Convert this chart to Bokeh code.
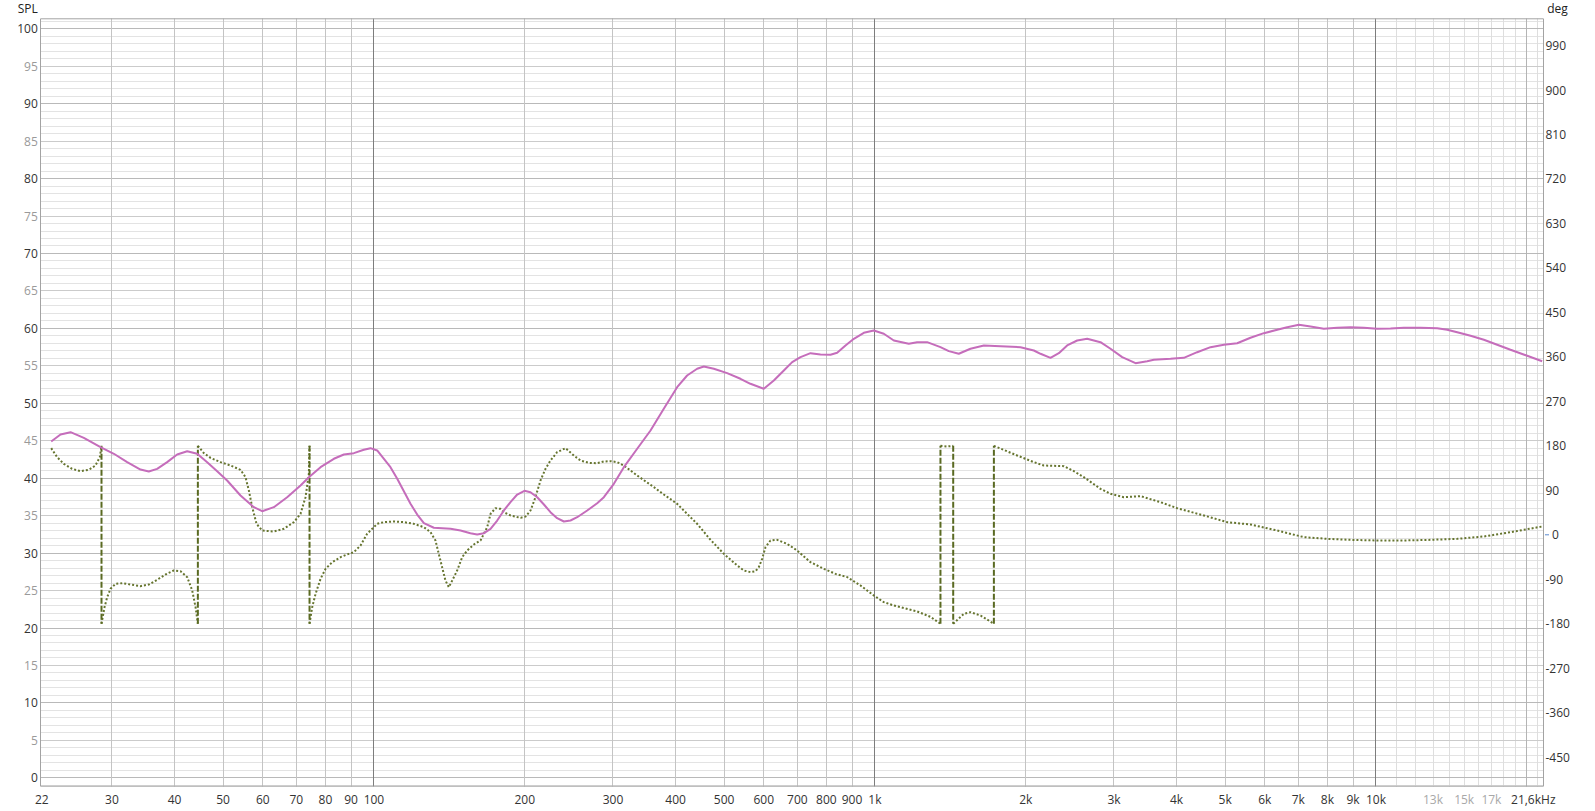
from bokeh.plotting import figure
from bokeh.models import ColumnDataSource, Range1d, FixedTicker, Grid
from bokeh.core.properties import value
from bokeh.embed import file_html
from bokeh.resources import INLINE
import math

# ---------------- data ----------------
spl_freq = [22.69, 23.68, 24.80, 26.36, 28.46, 30.26, 32.17, 34.20, 35.53, 36.92, 38.66,
            40.48, 42.39, 44.38, 46.47, 48.65, 50.93, 54.16, 57.59, 59.83, 63.12, 67.11,
            71.36, 74.15, 78.24, 83.18, 87.09, 91.19, 95.46, 98.43,
            101.5, 107.9, 111.3, 118.3, 122.0, 125.8, 131.7, 142.2, 148.9, 155.8, 160.7,
            165.8, 170.9, 176.2, 181.7, 187.3, 193.2, 199.7, 205.3, 211.8, 218.4, 225.1,
            232.1, 239.4, 246.8, 254.5, 266.5, 279.0, 287.7, 301.2, 315.4, 335.3, 356.5,
            378.9, 402.9, 421.8, 441.7, 455.5,
            476.9, 507.0, 539.0, 564.3, 600.1, 628.3, 657.9, 683.6, 710.3, 743.7, 778.6,
            815.2, 840.6, 873.5, 907.6, 950.2, 994.9, 1041.6, 1090.6, 1168.4, 1214.1,
            1271.1, 1351.4, 1404.2, 1470.2, 1551.1, 1649.9, 1780.6, 1952.3, 2075.9,
            2140.5, 2240.7, 2328.3, 2419.2, 2533.2, 2652.6, 2819.5,
            2952.4, 3115.5, 3312.4, 3494.6, 3603.4, 3890.5, 4136.0, 4397.7, 4675.7,
            4971.9, 5284.6, 5617.9, 5974.5, 6352.3, 6650.9, 7018.0, 7403.5, 7870.1,
            8367.8, 8897.9, 9460.5, 10057, 10693, 11369, 12274, 13254, 13875, 14529,
            15447, 16423, 17459, 18561, 20043, 21470]
spl_db = [44.90, 45.83, 46.14, 45.39, 44.14, 43.26, 42.14, 41.16, 40.89, 41.25, 42.14,
          43.16, 43.60, 43.26, 42.14, 40.93, 39.69, 37.69, 36.13, 35.59, 36.13, 37.46,
          39.03, 40.13, 41.47, 42.59, 43.16, 43.34, 43.79, 44.01,
          43.70, 41.47, 39.92, 36.58, 35.15, 33.99, 33.38, 33.24, 33.02, 32.66, 32.48,
          32.66, 33.24, 34.35, 35.69, 36.80, 37.82, 38.32, 38.13, 37.46, 36.49, 35.46,
          34.66, 34.22, 34.35, 34.79, 35.69, 36.66, 37.46, 39.25, 41.47, 43.93, 46.37,
          49.27, 52.15, 53.71, 54.61, 54.91,
          54.61, 54.02, 53.27, 52.60, 51.94, 53.04, 54.38, 55.49, 56.16, 56.69, 56.52,
          56.48, 56.74, 57.72, 58.61, 59.41, 59.72, 59.28, 58.38, 57.94, 58.16,
          58.16, 57.49, 56.96, 56.61, 57.28, 57.72, 57.62, 57.49, 57.05,
          56.61, 56.07, 56.69, 57.72, 58.38, 58.61, 58.16,
          57.28, 56.16, 55.35, 55.62, 55.81, 55.94, 56.07, 56.82, 57.49,
          57.81, 58.02, 58.75, 59.36, 59.81, 60.16, 60.48, 60.25, 59.95,
          60.08, 60.16, 60.08, 59.95, 59.99, 60.08, 60.08, 60.03, 59.81, 59.49,
          59.01, 58.48, 57.81, 57.14, 56.34, 55.62]

phase_freq = [22.69, 23.32, 24.04, 24.98, 25.96, 26.97, 27.81, 28.37, 28.59, 28.59,
              28.99, 29.35, 29.80, 30.50, 31.45, 32.68, 34.20, 35.53, 36.92, 38.37,
              39.86, 41.11, 42.39, 43.38, 44.05, 44.52, 44.52, 45.77, 47.19, 49.40,
              51.73, 54.16, 55.42, 56.28, 57.15, 58.30, 59.83, 63.12, 66.08, 69.21,
              71.36, 73.02, 74.15, 74.38, 74.38, 75.30, 76.47, 78.24, 80.06, 82.55,
              85.78, 89.12, 91.19, 94.03, 96.93, 99.94,
              101.5, 104.7, 109.6, 114.7, 120.1, 125.8, 129.7, 132.7, 134.7, 136.8,
              138.9, 141.1, 143.3, 146.6, 150.0, 153.5, 158.3, 163.2, 168.3, 170.9,
              174.8, 178.9, 181.6, 187.3, 196.2, 200.7, 205.4, 210.1, 215.0, 220.0,
              225.1, 232.1, 241.2, 250.6, 258.4, 268.5, 279.0, 287.7, 296.7, 305.9,
              315.3, 335.3, 362.0, 379.0, 402.9, 421.8, 441.7, 469.7,
              499.4, 530.9, 547.4, 564.4, 577.5, 586.4, 595.5, 604.7, 618.7, 637.9,
              667.9, 699.3, 743.6, 790.7, 834.3, 880.4, 935.9, 994.9, 1041.6, 1090.6,
              1214.1, 1291.0, 1351.4, 1351.4, 1394.0, 1432.9, 1432.9, 1505.0, 1551.9,
              1624.9, 1727.5, 1727.5, 1922.5, 2075.9, 2173.6, 2382.9, 2494.6, 2611.9,
              2819.5, 2952.4, 3139.0, 3388.9, 3715.4, 4011.2, 4534.3, 5047.3, 5617.9,
              6352.3, 7180.7, 7992.6, 8896.3, 10057, 11369, 12852, 14529, 16423,
              18565, 21470]
phase_deg = [175.3, 157.1, 143.6, 133.5, 128.8, 131.5, 140.2, 157.1, 180, -180,
             -146.4, -126.2, -109.3, -99.2, -97.9, -100.6, -103.9, -100.6, -91.1, -80.3,
             -72.2, -73.6, -85.7, -112.7, -146.4, -180, 180, 165.2, 155.7, 147.0,
             140.2, 131.5, 116.6, 89.6, 55.9, 22.2, 8.7, 6.7, 12.1, 25.6,
             42.4, 76.1, 123.4, 180, -180, -146.4, -119.5, -89.1, -68.9, -55.4,
             -45.3, -38.5, -35.1, -21.7, 2.0, 15.4,
             22.2, 25.6, 26.9, 25.6, 22.2, 15.4, 5.3, -11.5, -38.5, -65.5,
             -92.5, -106.0, -92.5, -72.2, -45.3, -31.8, -19.6, -11.5, 15.4, 42.4,
             53.9, 52.5, 45.8, 39.1, 34.3, 37.0, 49.2, 76.1, 109.9, 133.5,
             150.3, 167.2, 175.3, 160.5, 150.3, 145.6, 144.9, 148.3, 149.0, 147.0,
             140.2, 120.0, 96.4, 81.5, 62.7, 42.4, 22.2, -10.2,
             -38.5, -62.1, -72.2, -75.6, -73.6, -65.5, -48.6, -25.0, -11.5, -10.2,
             -18.3, -31.8, -55.4, -68.9, -79.0, -85.7, -102.6, -122.8, -136.3, -143.1,
             -155.0, -166.0, -180, 180, 178.7, 180, -180, -159.9, -156.5,
             -163.3, -180, 180, 160.5, 147.0, 140.2, 138.9, 128.8, 116.6,
             93.0, 82.9, 76.1, 78.2, 66.0, 53.9, 39.1, 25.6, 20.8,
             8.7, -4.8, -8.2, -10.2, -11.5, -11.5, -10.2, -8.2, -3.4,
             5.3, 16.8]

db_major_ticks = list(range(0, 101, 10))
db_half_ticks = list(range(5, 100, 10))
db_minor_ticks = [v for v in range(-1, 102) if v % 5 != 0]
deg_ticks = list(range(-450, 991, 90))

freq_grid = [30, 40, 50, 60, 70, 80, 90, 200, 300, 400, 500, 600, 700, 800, 900,
             2000, 3000, 4000, 5000, 6000, 7000, 8000, 9000]
freq_decades = [100, 1000, 10000]
freq_fine = [11000, 12000, 13000, 14000, 15000, 16000, 17000, 18000, 19000, 21000]
freq_20k = [20000]

x_tick_values = [21.73, 30, 40, 50, 60, 70, 80, 90, 100, 200, 300, 400, 500, 600, 700,
                 800, 900, 1000, 2000, 3000, 4000, 5000, 6000, 7000, 8000, 9000, 10000]
x_tick_labels = ["22", "30", "40", "50", "60", "70", "80", "90", "100", "200", "300",
                 "400", "500", "600", "700", "800", "900", "1k", "2k", "3k", "4k", "5k",
                 "6k", "7k", "8k", "9k", "10k"]
x_gray_values = [13000, 15000, 17000]
x_gray_labels = ["13k", "15k", "17k"]
x_end_label = "21,6kHz"

# ---------------- layout constants ----------------
W, H = 1595, 811
PAD_L, PAD_R, PAD_T, PAD_B = 40.0, 52.0, 18.3, 25.3
F_LO, F_HI = 21.6, 21600.0
DB_LO, DB_HI = -1.12, 101.33
DEG_LO, DEG_HI = -508.7, 1044.1
FONT = "Open Sans"

plot_w = W - PAD_L - PAD_R
plot_h = H - PAD_T - PAD_B
dec_per_px = math.log10(F_HI / F_LO) / plot_w
db_per_px = (DB_HI - DB_LO) / plot_h
deg_per_px = (DEG_HI - DEG_LO) / plot_h

def fx(px_off_from_left_edge):
    return F_LO * 10 ** (px_off_from_left_edge * dec_per_px)

def fxr(px_off_from_right_edge):
    return F_HI * 10 ** (px_off_from_right_edge * dec_per_px)

X0 = fx(-PAD_L)
X1 = fxr(PAD_R)
Y0 = DB_LO - PAD_B * db_per_px
Y1 = DB_HI + PAD_T * db_per_px
G0 = DEG_LO - PAD_B * deg_per_px
G1 = DEG_HI + PAD_T * deg_per_px

p = figure(width=W, height=H, x_axis_type="log", x_axis_location=None,
           y_axis_location=None, x_range=Range1d(X0, X1), y_range=Range1d(Y0, Y1),
           output_backend="svg", toolbar_location=None, min_border=0)
for g in p.grid:
    g.visible = False
p.outline_line_color = None
p.background_fill_color = "white"
p.border_fill_color = "white"
p.extra_y_ranges = {"deg": Range1d(G0, G1)}

HAS_CB = "cross_bounds" in Grid.properties()

def add_grid(dim, ticks, color):
    if HAS_CB:
        cb = (F_LO, F_HI) if dim == 1 else (DB_LO, DB_HI)
        p.add_layout(Grid(dimension=dim, ticker=FixedTicker(ticks=ticks),
                          cross_bounds=cb, grid_line_color=color, grid_line_width=1))
    elif dim == 1:
        p.segment(x0=[F_LO] * len(ticks), x1=[F_HI] * len(ticks), y0=ticks, y1=ticks,
                  line_color=color, line_width=1)
    else:
        p.segment(x0=ticks, x1=ticks, y0=[DB_LO] * len(ticks), y1=[DB_HI] * len(ticks),
                  line_color=color, line_width=1)

add_grid(1, db_minor_ticks, "#e3e3e3")
add_grid(0, freq_fine, "#dedede")
add_grid(1, db_half_ticks, "#cbcbcb")
add_grid(1, db_major_ticks, "#b9b9b9")
add_grid(0, freq_grid, "#c4c4c4")
add_grid(0, freq_20k, "#b4b4b4")
add_grid(0, freq_decades, "#7d7d7d")

# plot-area border
p.segment(x0=[F_LO, F_HI, F_LO, F_LO], x1=[F_LO, F_HI, F_HI, F_HI],
          y0=[DB_LO, DB_LO, DB_HI, DB_LO], y1=[DB_HI, DB_HI, DB_HI, DB_LO],
          line_color="#a3a3a3", line_width=1)

# ---------------- texts ----------------
TXT = dict(text_font=value(FONT), text_font_size=value("12px"), text_baseline="middle")
lx = fx(-2.7)      # right edge of the left labels
rx = fxr(2.0)      # left edge of the right labels

p.text(x=[lx] * len(db_major_ticks), y=db_major_ticks,
       text=[str(v) for v in db_major_ticks], text_align="right",
       text_color="#333333", **TXT)
p.text(x=[lx] * len(db_half_ticks), y=db_half_ticks,
       text=[str(v) for v in db_half_ticks], text_align="right",
       text_color="#9a9a9a", **TXT)
p.text(x=[rx if v != 0 else fxr(8.5) for v in deg_ticks], y=deg_ticks,
       y_range_name="deg", text=[str(v) for v in deg_ticks], text_align="left",
       text_color="#333333", **TXT)
# small blue reference mark before the 0 deg label
p.segment(x0=[fxr(1.5)], x1=[fxr(5.5)], y0=[0], y1=[0], y_range_name="deg",
          line_color="#5b8bd0", line_width=1)

XLAB_Y = DB_LO - 13.5 * db_per_px
p.text(x=x_tick_values, y=[XLAB_Y] * len(x_tick_values), text=x_tick_labels,
       text_align="center", text_color="#333333", **TXT)
p.text(x=x_gray_values, y=[XLAB_Y] * len(x_gray_values), text=x_gray_labels,
       text_align="center", text_color="#a8a8a8", **TXT)
p.text(x=[fxr(12)], y=[XLAB_Y], text=[x_end_label],
       text_align="right", text_color="#333333", **TXT)

TITLE_Y = DB_HI + 10.4 * db_per_px
p.text(x=[lx], y=[TITLE_Y], text=["SPL"], text_align="right",
       text_color="#222222", **TXT)
p.text(x=[fxr(3.7)], y=[TITLE_Y], text=["deg"], text_align="left",
       text_color="#222222", **TXT)

# ---------------- phase (split at wraps) ----------------
segs_x, segs_y = [[phase_freq[0]]], [[phase_deg[0]]]
jump_x, jump_y0, jump_y1 = [], [], []
for i in range(1, len(phase_freq)):
    if abs(phase_deg[i] - phase_deg[i - 1]) > 270:
        jump_x.append(phase_freq[i])
        jump_y0.append(phase_deg[i - 1])
        jump_y1.append(phase_deg[i])
        segs_x.append([])
        segs_y.append([])
    segs_x[-1].append(phase_freq[i])
    segs_y[-1].append(phase_deg[i])

p.multi_line(xs=segs_x, ys=segs_y, y_range_name="deg", line_color="#66752f",
             line_width=2, line_dash="2 2")
p.segment(x0=jump_x, y0=jump_y0, x1=jump_x, y1=jump_y1, y_range_name="deg",
          line_color="#5a6a22", line_width=2, line_dash="6 2")

# ---------------- SPL ----------------
spl_src = ColumnDataSource(dict(f=spl_freq, db=spl_db))
p.line("f", "db", source=spl_src, line_color="#c56dbb", line_width=2)

open("out.html", "w").write(file_html(p, INLINE))
